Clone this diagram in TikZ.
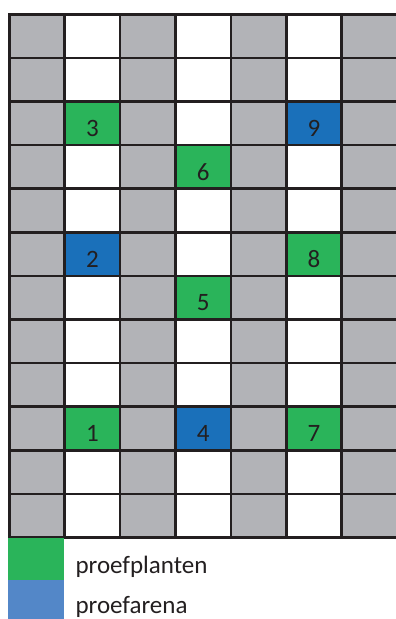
\documentclass[tikz,border=0pt]{standalone}
\usepackage{fontspec}
\setmainfont{Carlito}
\usetikzlibrary{positioning}
\definecolor{plotgray}{RGB}{178,179,183}
\definecolor{plantgreen}{RGB}{42,180,90}
\definecolor{arenablue}{RGB}{26,112,186}
\definecolor{legendblue}{RGB}{83,135,200}
\definecolor{inkgray}{RGB}{35,31,32}
\begin{document}
\begin{tikzpicture}[x=1pt,y=-1pt,
    cell/.style={draw=inkgray, line width=2.6pt, minimum width=55.4pt, minimum height=43.6pt, inner sep=0pt, anchor=north west},
    num/.style={text=inkgray, font=\fontsize{25}{30}\selectfont, yshift=-5pt},
    legbox/.style={minimum width=56pt, inner sep=0pt, anchor=north west},
    legtext/.style={text=inkgray, font=\fontsize{25}{30}\selectfont, inner sep=0pt, anchor=base west}]
        \useasboundingbox (0,0) rectangle (396,619);
        % grid of plots
        \foreach \r in {1,...,12} {
            \foreach \c in {1,3,5,7}
                \node (c-\r-\c) [cell, fill=plotgray] at ({8+(\c-1)*55.4},{13+(\r-1)*43.6}) {};
            \foreach \c in {2,4,6}
                \node (c-\r-\c) [cell, fill=white] at ({8+(\c-1)*55.4},{13+(\r-1)*43.6}) {};
        }
        % numbered plots
        \foreach \r/\c/\col/\n in {3/2/plantgreen/3, 3/6/arenablue/9, 4/4/plantgreen/6,
                                  6/2/arenablue/2, 6/6/plantgreen/8, 7/4/plantgreen/5,
                                  10/2/plantgreen/1, 10/4/arenablue/4, 10/6/plantgreen/7} {
            \node (p-\n) [cell, fill=\col] at ({8+(\c-1)*55.4},{13+(\r-1)*43.6}) {};
            \node (n-\n) [num] at (p-\n.center) {\n};
        }
        % legend
        \node (leg-plant) [legbox, minimum height=42pt, fill=plantgreen] at (8,537.5) {};
        \node (leg-arena) [legbox, minimum height=40pt, fill=legendblue] at (8,579.5) {};
        \node (txt-plant) [legtext] at ([xshift=11pt,yshift=6.5pt]leg-plant.south east) {proefplanten};
        \node (txt-arena) [legtext] at ([xshift=11pt,yshift=6.5pt]leg-arena.south east) {proefarena};
    \end{tikzpicture}
\end{document}
